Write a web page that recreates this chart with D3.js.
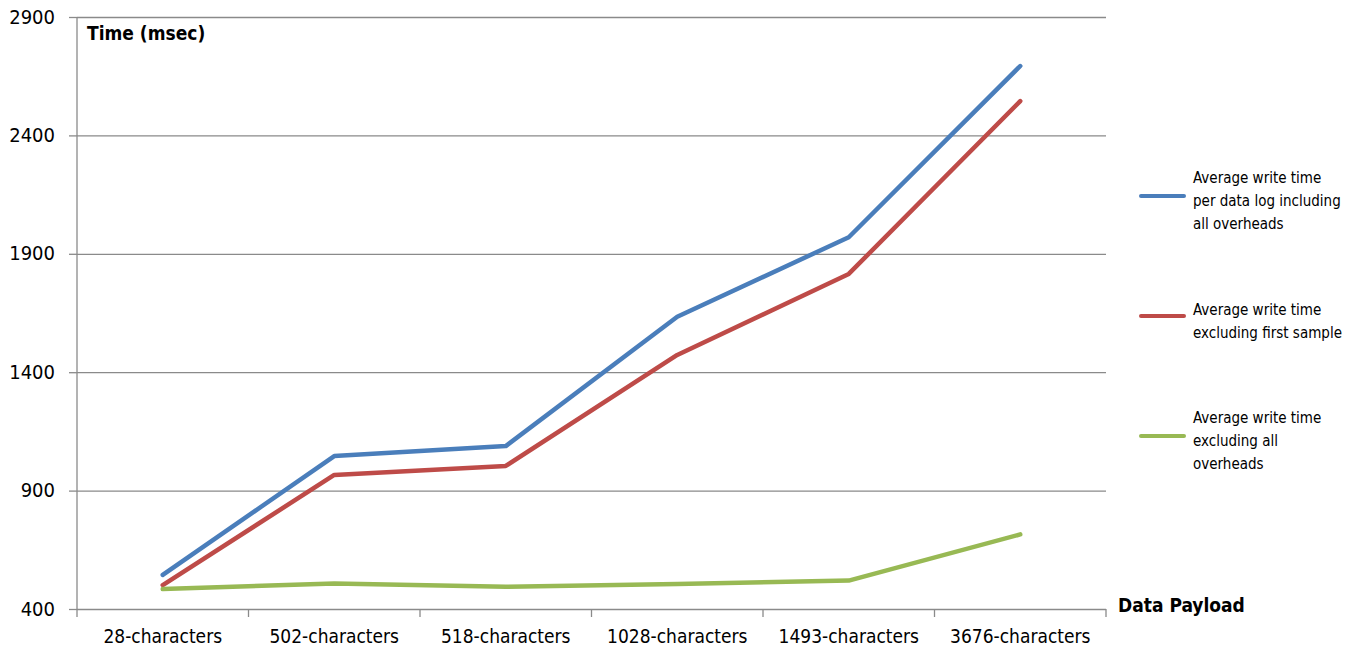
<!DOCTYPE html>
<html>
<head>
<meta charset="utf-8">
<script src="https://cdn.jsdelivr.net/npm/d3@7"></script>
<style>
  body { margin: 0; background: #fff; }
  text { font-family: "Liberation Sans Narrow", "DejaVu Sans Condensed", sans-serif; font-stretch: condensed; fill: #000; }
</style>
</head>
<body>
<div id="chart"></div>
<script>
(function () {
var width = 1355,
    height = 650;

// data
var categories = ["28-characters", "502-characters", "518-characters", "1028-characters", "1493-characters", "3676-characters"];
var yTicks = [400, 900, 1400, 1900, 2400, 2900];
var seriesNames = [
  ["Average write time", "per data log including", "all overheads"],
  ["Average write time", "excluding first sample"],
  ["Average write time", "excluding all", "overheads"]
];
var blueValues  = [544, 1046, 1088, 1634, 1970, 2693];
var redValues   = [501, 966, 1004, 1473, 1815, 2545];
var greenValues = [484, 508, 494, 506, 520, 715];
var colors = ["#4a7ebb", "#be4b48", "#98b954"];

var series = [blueValues, redValues, greenValues];

var plotLeft = 77, plotRight = 1106, plotTop = 17, plotBottom = 609;

var x = d3.scaleBand().domain(categories).range([plotLeft, plotRight]);
var y = d3.scaleLinear().domain([400, 2900]).range([plotBottom, plotTop]);

var svg = d3.select("#chart").append("svg")
    .attr("width", width)
    .attr("height", height);

// gridlines + y labels
var yAxis = svg.append("g")
    .attr("transform", "translate(" + plotLeft + ",0)")
    .call(d3.axisLeft(y).tickValues(yTicks).tickSize(8).tickPadding(14).tickFormat(d3.format("d")));
yAxis.select(".domain").remove();
yAxis.selectAll(".tick line").attr("stroke", "#8a8a8a").attr("stroke-width", 1.3);
yAxis.selectAll(".tick text").style("font-size", "20px").attr("dy", "0.3em");
yAxis.selectAll(".tick").append("line")
    .attr("x1", 0).attr("x2", plotRight - plotLeft)
    .attr("stroke", "#8a8a8a").attr("stroke-width", 1.3);

// vertical axis line
svg.append("line")
    .attr("x1", plotLeft).attr("x2", plotLeft)
    .attr("y1", y(2900)).attr("y2", y(400))
    .attr("stroke", "#8a8a8a").attr("stroke-width", 1.3);

// x axis: ticks at band edges, labels at centres
var edges = categories.map(function(c) { return x(c); }).concat([plotRight]);
svg.selectAll(".xtick").data(edges).enter().append("line")
    .attr("class", "xtick")
    .attr("x1", function(d) { return d; }).attr("x2", function(d) { return d; })
    .attr("y1", plotBottom).attr("y2", plotBottom + 8)
    .attr("stroke", "#8a8a8a").attr("stroke-width", 1.3);

svg.selectAll(".xlabel").data(categories).enter().append("text")
    .attr("class", "xlabel")
    .attr("x", function(d) { return x(d) + x.bandwidth() / 2; })
    .attr("y", 643)
    .attr("text-anchor", "middle")
    .style("font-size", "19px")
    .text(function(d) { return d; });

// axis titles
svg.append("text")
    .attr("x", 87).attr("y", 40)
    .style("font-size", "19px").style("font-weight", "bold")
    .text("Time (msec)");
svg.append("text")
    .attr("x", 1118).attr("y", 612)
    .style("font-size", "19px").style("font-weight", "bold")
    .text("Data Payload");

// lines
var line = d3.line()
    .x(function(d, i) { return x(categories[i]) + x.bandwidth() / 2; })
    .y(function(d) { return y(d); });

svg.selectAll(".series").data(series).enter().append("path")
    .attr("class", "series")
    .attr("d", line)
    .attr("fill", "none")
    .attr("stroke", function(d, i) { return colors[i]; })
    .attr("stroke-width", 4.5)
    .attr("stroke-linejoin", "round")
    .attr("stroke-linecap", "round");

// legend
var legend = svg.selectAll(".legend").data(seriesNames).enter().append("g")
    .attr("class", "legend")
    .attr("transform", function(d, i) { return "translate(1140," + (196 + 120 * i) + ")"; });

legend.append("line")
    .attr("x1", 1).attr("x2", 44)
    .attr("stroke", function(d, i) { return colors[i]; })
    .attr("stroke-width", 4)
    .attr("stroke-linecap", "round");

legend.append("text")
    .style("font-size", "15px")
    .selectAll("tspan").data(function(d) { return d; }).enter().append("tspan")
    .attr("x", 53)
    .attr("y", function(d, i, nodes) { return 10 + (i - (nodes.length - 1) / 2) * 23; })
    .text(function(d) { return d; });
})();
</script>
</body>
</html>
